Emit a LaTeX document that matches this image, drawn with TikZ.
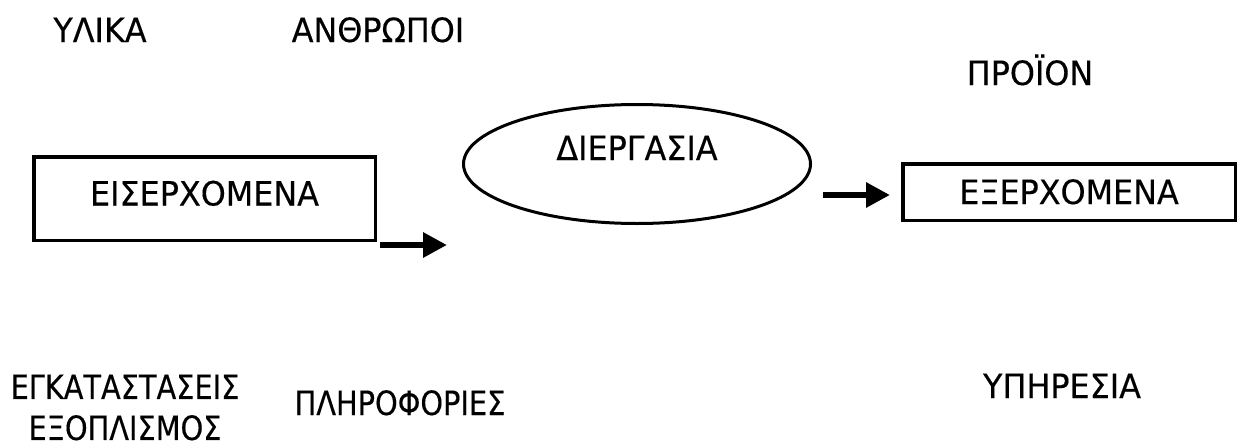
\documentclass[tikz,border=0pt]{standalone}
\usepackage{fontspec}
\setmainfont{DejaVu Sans}[FakeStretch=0.95,FakeBold=0.3]
\newfontfamily\narrowfont{DejaVu Sans}[FakeStretch=0.86,FakeBold=0.3]
\usetikzlibrary{shapes.geometric,arrows.meta}
\begin{document}
\begin{tikzpicture}[x=1pt,y=-1pt,
  every node/.style={font=\fontsize{33.5}{41}\selectfont, inner sep=0pt, outer sep=0pt},
  lbl/.style={anchor=base},
  narrowlbl/.style={font=\narrowfont\fontsize{33.5}{41}\selectfont},
  boxstyle/.style={draw, line width=3.5pt, rectangle},
  ellstyle/.style={draw, line width=3pt, ellipse},
  fatarrow/.style={line width=6pt, -{Triangle[length=24pt,width=24pt]}}]
\useasboundingbox[fill=white] (0,0) rectangle (1246,447);

\node[lbl] (ylika) at (100,42) {ΥΛΙΚΑ};
\node[lbl] (anthropoi) at (378,42) {ΑΝΘΡΩΠΟΙ};
\node[lbl] (proion) at (1030,85) {ΠΡΟΪΟΝ};

\node[boxstyle, minimum width=341.5pt, minimum height=83.5pt, text height=24pt, text depth=10pt] (eis) at (204.5,198.5) {ΕΙΣΕΡΧΟΜΕΝΑ};
\node[ellstyle, minimum width=347pt, minimum height=119pt, text height=24pt, text depth=32pt] (dier) at (637,164) {ΔΙΕΡΓΑΣΙΑ};
\node[boxstyle, minimum width=332.5pt, minimum height=56.5pt, text height=24pt, text depth=0pt] (exer) at (1069,192) {ΕΞΕΡΧΟΜΕΝΑ};

\coordinate (a1s) at (380,245);
\coordinate (a1e) at (447,245);
\coordinate (a2s) at (823,195);
\coordinate (a2e) at (890,195);
\draw[fatarrow] (a1s) -- (a1e);
\draw[fatarrow] (a2s) -- (a2e);

\node[narrowlbl, align=center] (egk) at (125,407.5) {ΕΓΚΑΤΑΣΤΑΣΕΙΣ\\ΕΞΟΠΛΙΣΜΟΣ};
\node[narrowlbl, lbl] (plir) at (400,415) {ΠΛΗΡΟΦΟΡΙΕΣ};
\node[lbl] (ypir) at (1062,398) {ΥΠΗΡΕΣΙΑ};
\end{tikzpicture}
\end{document}
